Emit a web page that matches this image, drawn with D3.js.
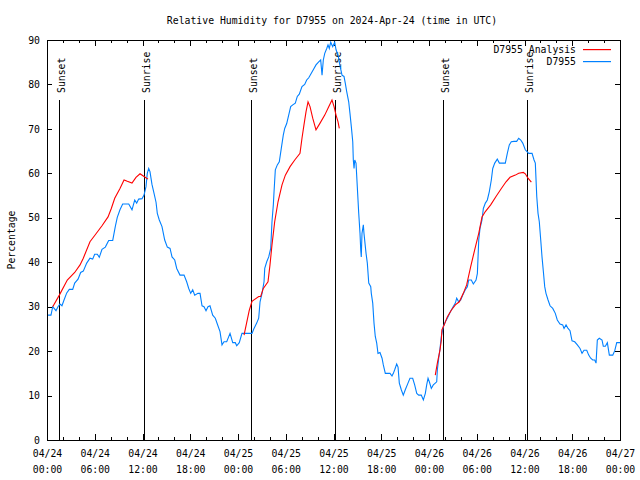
<!DOCTYPE html>
<html><head><meta charset="utf-8">
<script src="https://cdn.jsdelivr.net/npm/d3@7"></script>
<style>
body{margin:0;background:#fff;}
text{font-family:"DejaVu Sans Mono",monospace;font-size:9.8px;fill:#000;}
</style></head>
<body><svg id="c" width="640" height="480"></svg>
<script>
// ---- data (hours since 2024-04-24 00:00 UTC) ----
const blueHours = [0.13,0.5,0.72,1.13,1.38,1.63,1.88,2.14,2.48,2.8,3.23,3.48,3.9,4.23,4.56,4.99,5.4,5.74,5.99,6.32,6.57,6.91,7.33,7.75,8.26,8.58,8.83,9.17,9.51,10.27,10.68,11.02,11.27,11.52,11.94,12.19,12.44,12.6,12.78,12.94,13.19,13.45,13.7,13.86,14.11,14.45,14.79,15.12,15.46,15.71,16.05,16.3,16.71,17.22,17.55,17.81,18.06,18.31,18.56,18.97,19.23,19.48,19.73,19.98,20.23,20.48,20.82,21.15,21.4,21.74,21.99,22.24,22.58,23.0,23.34,23.66,23.84,24.16,24.5,25.76,26.01,26.35,26.6,26.77,27.02,27.27,27.36,27.61,27.86,28.11,28.27,28.44,28.53,28.69,28.94,29.19,29.44,29.69,29.87,30.12,30.37,30.62,30.88,31.2,31.45,31.7,32.04,32.38,32.63,32.89,33.21,33.46,33.8,34.14,34.39,34.56,34.72,34.9,35.15,35.31,35.47,35.65,35.9,36.15,36.32,36.57,36.82,37.07,37.32,37.48,37.66,37.91,38.07,38.24,38.42,38.49,38.58,38.67,38.83,38.99,39.17,39.33,39.42,39.49,39.58,39.75,39.83,40.09,40.25,40.43,40.68,40.75,40.93,41.09,41.25,41.43,41.59,41.84,42.1,42.26,42.51,43.1,43.35,43.52,43.69,43.94,44.11,44.27,44.52,44.77,45.02,45.36,45.61,45.95,46.2,46.46,46.71,47.03,47.29,47.54,47.71,47.88,48.04,48.29,48.54,48.79,48.97,49.05,49.22,49.38,49.55,49.8,50.05,50.3,50.64,50.98,51.31,51.48,51.73,51.99,52.24,52.56,52.82,52.99,53.32,53.57,53.91,54.08,54.25,54.41,54.66,54.83,55.08,55.33,55.58,55.83,56.01,56.26,56.58,56.84,57.59,57.84,58.09,58.34,58.68,59.02,59.27,59.53,59.78,60.1,60.53,60.95,61.2,61.36,61.54,61.7,61.86,62.04,62.2,62.37,62.54,62.7,62.96,63.21,63.55,63.87,64.12,64.46,64.8,64.97,65.22,65.47,65.72,65.97,66.31,66.64,66.98,67.23,67.48,67.82,68.07,68.32,68.57,68.82,68.99,69.15,69.4,69.74,69.9,70.16,70.41,70.66,71.09,71.34,71.59,72.0];
const blueValues = [28.1,28.1,30.0,29.1,30.0,30.6,30.2,31.5,33.1,33.9,33.9,35.3,36.2,37.7,38.0,39.8,40.9,40.7,41.8,41.8,41.1,42.9,43.4,44.9,44.9,48.0,50.1,51.8,53.1,53.1,51.8,54.0,53.3,54.2,54.3,55.1,57.0,60.0,61.1,60.4,57.5,55.5,53.5,51.0,49.5,48.0,45.0,43.4,43.1,41.2,40.5,38.6,37.1,37.1,35.6,34.1,33.0,33.8,32.6,33.0,33.0,30.2,30.0,29.1,30.0,30.2,28.1,27.4,26.1,24.4,21.4,22.1,22.1,24.0,21.9,21.9,21.2,21.9,24.0,24.0,25.1,26.3,27.4,31.1,33.0,35.6,38.6,40.1,41.2,43.1,49.1,52.9,55.9,60.8,61.9,62.6,65.6,68.6,70.1,71.2,73.1,75.0,75.4,75.8,77.3,77.8,79.5,80.0,81.0,81.5,82.5,83.3,84.4,85.1,85.5,82.1,85.5,87.0,88.1,88.9,88.1,89.5,88.5,89.5,87.8,86.6,84.2,82.1,81.8,80.3,78.4,76.1,73.5,70.5,67.1,63.0,61.1,63.0,62.3,57.0,51.0,46.5,42.8,41.2,46.5,48.4,46.5,42.0,39.8,35.3,34.5,33.0,30.8,26.3,23.3,21.8,19.5,19.7,18.4,16.9,15.0,15.0,14.4,15.0,15.8,17.1,16.4,12.8,11.3,10.1,11.3,12.8,13.9,13.9,12.4,10.5,10.1,10.1,9.0,10.5,12.4,13.9,13.1,11.6,12.4,12.8,13.1,15.8,18.4,20.5,23.3,25.5,26.6,27.4,28.7,29.8,30.8,31.9,31.1,31.5,32.6,33.8,34.5,36.0,36.0,35.1,36.0,37.5,45.0,47.6,49.5,52.1,53.3,54.0,55.9,58.5,61.1,62.3,63.2,62.3,62.3,64.5,66.4,67.1,67.2,67.2,67.9,67.5,66.8,65.3,64.5,64.5,63.0,62.3,54.8,51.0,49.1,45.0,41.2,37.9,34.5,33.0,31.5,30.2,29.6,28.5,27.0,26.1,25.9,25.1,25.9,25.1,24.6,22.3,22.1,21.4,20.6,19.5,20.2,20.2,19.1,18.4,18.0,18.0,17.3,22.5,22.9,22.5,21.1,21.1,21.9,19.1,19.1,20.1,21.9,21.9];
// null marks a gap in the analysis series
const redHours = [0.72,1.55,2.55,3.48,4.15,4.56,5.4,6.16,6.91,7.67,8.08,8.51,9.17,9.68,10.09,10.68,11.18,11.69,12.19,12.69,
  18,
  24.76,25.09,25.42,25.76,26.6,26.85,27.18,27.77,28.02,28.27,28.61,29.03,29.53,29.95,30.54,31.13,31.79,32.04,32.29,32.55,32.8,33.05,33.39,33.8,34.31,34.9,35.4,35.81,36.07,36.32,36.57,36.73,
  42,
  48.79,49.05,49.38,49.55,49.62,49.89,50.3,50.8,51.31,51.81,52.31,52.73,53.24,53.74,54.25,54.66,55.08,55.75,56.42,57.09,57.68,58.18,58.85,59.27,59.85,60.1,60.44,60.86];
const redValues = [30.0,32.6,36.0,37.7,39.4,40.9,44.6,46.4,48.2,50.2,52.1,54.4,56.6,58.5,58.2,57.8,59.1,59.9,59.3,58.7,
  null,
  23.6,26.4,29.2,31.2,32.3,32.3,34.1,35.6,39.4,43.9,49.1,53.6,57.4,59.6,61.5,63.0,64.5,67.9,70.9,73.9,76.1,75.0,72.4,69.8,71.3,73.1,75.0,76.5,75.0,73.1,71.6,70.1,
  null,
  14.6,17.3,20.2,22.5,24.8,25.8,27.7,29.2,30.4,31.1,33.0,34.9,39.0,42.8,46.5,50.2,51.4,52.9,54.8,56.6,58.1,59.1,59.6,60.0,60.2,59.9,58.9,58.0];
const sunLabels = ["Sunset","Sunrise","Sunset","Sunrise","Sunset","Sunrise"];
const sunHours = [1.55,12.25,25.67,36.23,49.8,60.36];
const yTicks = [0,10,20,30,40,50,60,70,80,90];
const seriesNames = ["D7955 Analysis","D7955"];
const seriesColors = ["#ff0000","#0080ff"];
const titleText = "Relative Humidity for D7955 on 2024-Apr-24 (time in UTC)";
const yLabel = "Percentage";

// ---- layout ----
const L=47,R=620,T=40,B=440;
const t0 = Date.UTC(2024,3,24);
const toDate = h => new Date(t0 + h*3600000);
const x = d3.scaleUtc().domain([toDate(0),toDate(72)]).range([L,R]);
const y = d3.scaleLinear().domain([0,90]).range([B,T]);
const svg = d3.select("#c");

// axes
const majorT = d3.utcHour.every(6).range(toDate(0), toDate(72.01));
const minorT = d3.utcHour.every(2).range(toDate(0), toDate(72.01)).filter(d=>d.getUTCHours()%6!==0);
function styleAxis(g){g.select(".domain").remove();g.selectAll("line").attr("stroke","#000").attr("shape-rendering","crispEdges");}
svg.append("g").attr("transform",`translate(0,${B})`)
  .call(d3.axisBottom(x).tickValues(majorT).tickSizeInner(-6).tickSizeOuter(0).tickPadding(9).tickFormat(d3.utcFormat("%m/%d")))
  .call(styleAxis)
  .call(g=>g.selectAll(".tick text").each(function(d){
     const t=d3.select(this); t.text(null).attr("y",null).attr("dy",null);
     t.append("tspan").attr("x",0).attr("y",17).text(d3.utcFormat("%m/%d")(d));
     t.append("tspan").attr("x",0).attr("y",33).text(d3.utcFormat("%H:%M")(d));
  }));
svg.append("g").attr("transform",`translate(0,${B})`)
  .call(d3.axisBottom(x).tickValues(minorT).tickSizeInner(-3).tickSizeOuter(0).tickFormat(""))
  .call(styleAxis);
svg.append("g").attr("transform",`translate(0,${T})`)
  .call(d3.axisTop(x).tickValues(majorT).tickSizeInner(-6).tickSizeOuter(0).tickFormat(""))
  .call(styleAxis);
svg.append("g").attr("transform",`translate(0,${T})`)
  .call(d3.axisTop(x).tickValues(minorT).tickSizeInner(-3).tickSizeOuter(0).tickFormat(""))
  .call(styleAxis);
svg.append("g").attr("transform",`translate(${L},0)`)
  .call(d3.axisLeft(y).tickValues(yTicks).tickSizeInner(-5).tickSizeOuter(0).tickPadding(7).tickFormat(d3.format("d")))
  .call(styleAxis);
svg.append("g").attr("transform",`translate(${R},0)`)
  .call(d3.axisRight(y).tickValues(yTicks).tickSizeInner(-5).tickSizeOuter(0).tickFormat(""))
  .call(styleAxis);
svg.selectAll(".tick text").style("font-family","'DejaVu Sans Mono',monospace").style("font-size","9.8px");

// sunrise / sunset markers
const sun = svg.append("g");
sunHours.forEach((h,i)=>{
  const xp = Math.round(x(toDate(h)))+0.5;
  sun.append("line").attr("x1",xp).attr("x2",xp).attr("y1",100).attr("y2",B)
    .attr("stroke","#000").attr("shape-rendering","crispEdges");
  sun.append("text").attr("transform",`translate(${xp+5},93) rotate(-90)`).text(sunLabels[i]);
});

// series
const line = d3.line().defined(d=>d[1]!=null).x(d=>x(toDate(d[0]))).y(d=>y(d[1]));
const redData = redHours.map((h,i)=>[h,redValues[i]]);
const blueData = blueHours.map((h,i)=>[h,blueValues[i]]);
svg.append("path").datum(blueData).attr("d",line).attr("fill","none").attr("stroke",seriesColors[1]).attr("stroke-width",1.1);
svg.append("path").datum(redData).attr("d",line).attr("fill","none").attr("stroke",seriesColors[0]).attr("stroke-width",1.1);

// border
svg.append("rect").attr("x",L+0.5).attr("y",T+0.5).attr("width",R-L).attr("height",B-T)
  .attr("fill","none").attr("stroke","#000").attr("shape-rendering","crispEdges");

// legend
seriesNames.forEach((n,i)=>{
  const yy = 49 + i*12;
  svg.append("text").attr("x",576).attr("y",yy+4).attr("text-anchor","end").text(n);
  svg.append("rect").attr("x",583).attr("y",yy).attr("width",28).attr("height",1.2)
    .attr("fill",seriesColors[i]).attr("stroke","none");
});

// title & y label
svg.append("text").attr("x",332).attr("y",23.5).attr("text-anchor","middle").text(titleText);
svg.append("text").attr("transform","translate(14.5,240) rotate(-90)").attr("text-anchor","middle").text(yLabel);
</script></body></html>
